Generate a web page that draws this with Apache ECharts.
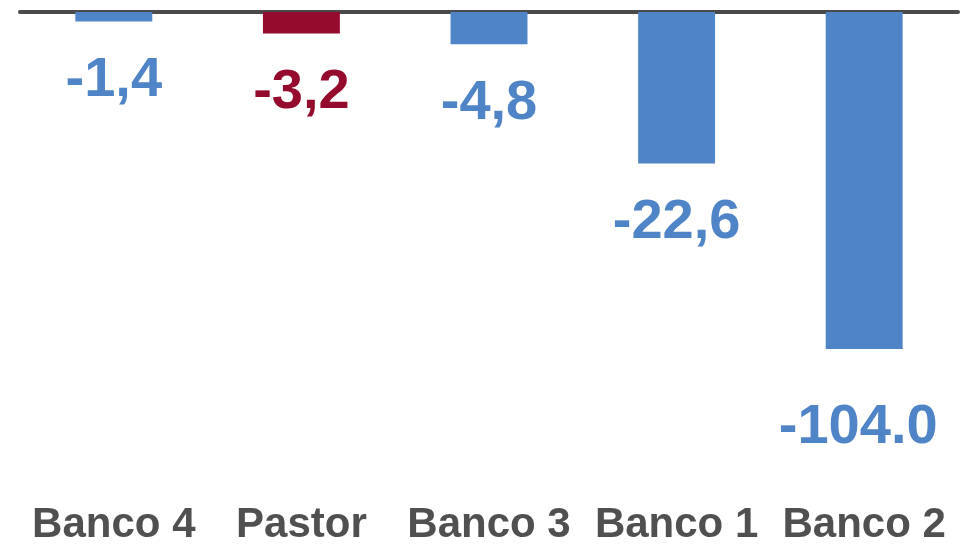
<!DOCTYPE html>
<html>
<head>
<meta charset="utf-8">
<script src="https://cdn.jsdelivr.net/npm/echarts@6/dist/echarts.min.js"></script>
<style>
  html, body { margin: 0; padding: 0; background: #fff; }
  #chart { width: 966px; height: 549px; }
</style>
</head>
<body>
<div id="chart"></div>
<script>
// datos
var bancos = ['Banco 4', 'Pastor', 'Banco 3', 'Banco 1', 'Banco 2'];
var valores = [-1.4, -3.2, -4.8, -22.6, -104.0];
var etiquetas = ['-1,4', '-3,2', '-4,8', '-22,6', '-104.0'];
// eje cortado: la barra mas larga se dibuja hasta aqui
var corte = -50.3;

var azul = '#4F85C6';
var granate = '#950B2D';

var chart = echarts.init(document.getElementById('chart'));

var datos = valores.map(function (v, i) {
  var color = bancos[i] == 'Pastor' ? granate : azul;
  var item = {
    value: Math.max(v, corte),
    itemStyle: { color: color },
    label: { color: color }
  };
  if (v < corte) {
    item.label.distance = 51;
    item.label.offset = [-6, 0];
  }
  return item;
});

var option = {
  animation: false,
  grid: { left: 20, right: 8, top: 12, bottom: 68 },
  xAxis: [
    {
      type: 'category',
      data: bancos,
      position: 'bottom',
      axisLine: { show: false, onZero: false },
      axisTick: { show: false },
      axisLabel: {
        interval: 0,
        margin: 23,
        color: '#505050',
        fontFamily: 'Liberation Sans, Arial, sans-serif',
        fontWeight: 'bold',
        fontSize: 42
      }
    },
    {
      type: 'category',
      data: bancos,
      position: 'top',
      axisLine: { show: true, onZero: false, lineStyle: { color: '#4A4A4A', width: 4 } },
      axisTick: { show: false },
      axisLabel: { show: false }
    }
  ],
  yAxis: {
    type: 'value',
    min: -70,
    max: 0,
    show: false
  },
  series: [
    {
      type: 'bar',
      data: datos,
      barWidth: '41%',
      label: {
        show: true,
        position: 'bottom',
        distance: 31,
        fontFamily: 'Liberation Sans, Arial, sans-serif',
        fontWeight: 'bold',
        fontSize: 56,
        formatter: function (p) { return etiquetas[p.dataIndex]; }
      }
    }
  ]
};

chart.setOption(option);
</script>
</body>
</html>
